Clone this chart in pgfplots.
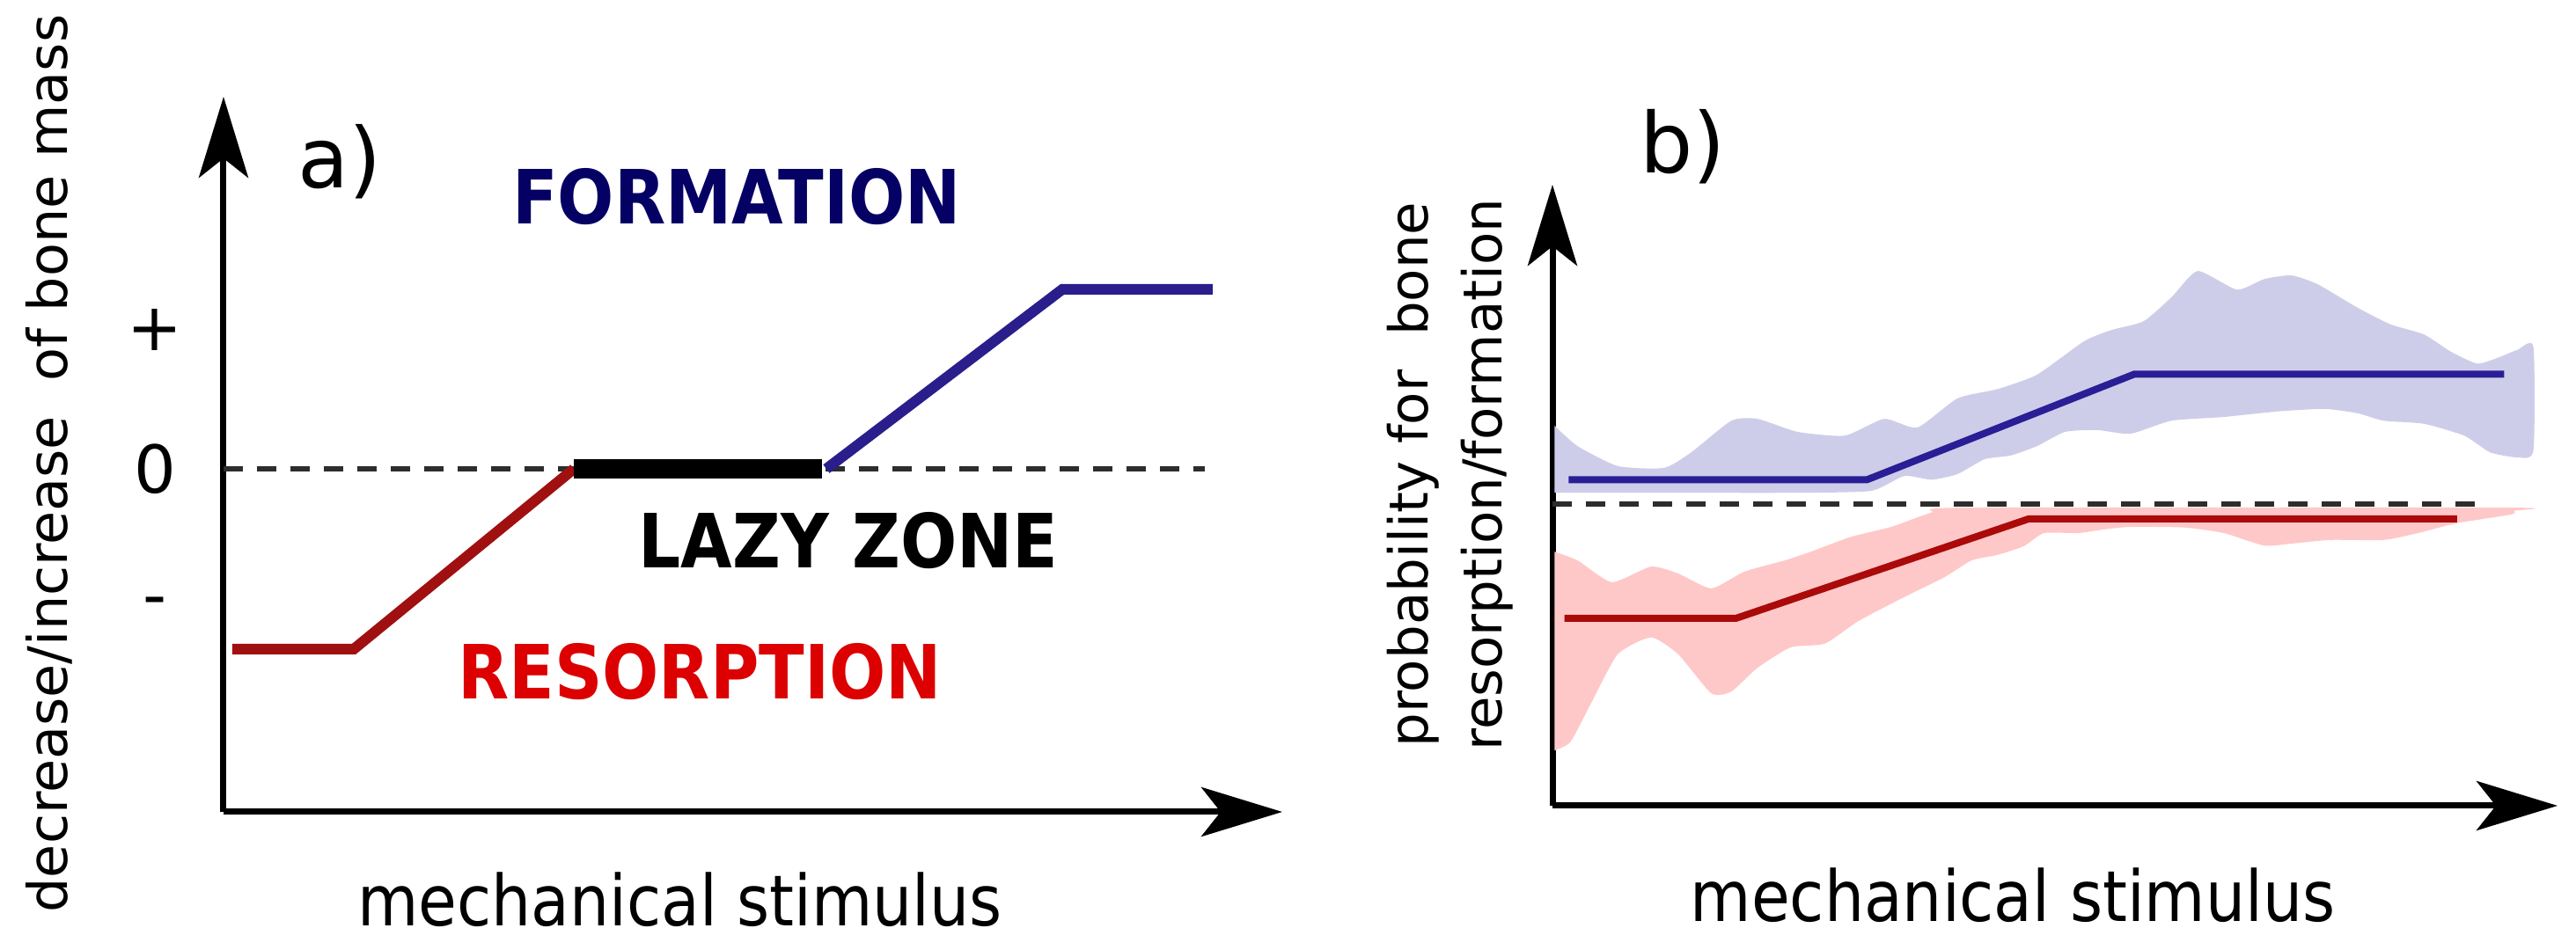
\documentclass[border=0pt]{standalone}
\usepackage{pgfplots}
\pgfplotsset{compat=1.18}
\usetikzlibrary{arrows.meta}
\usepackage{fontspec}
\setmainfont{DejaVu Sans}
\newfontfamily\condfont{DejaVu Sans}[FakeStretch=0.89]

\definecolor{navytxt}{RGB}{5,0,100}
\definecolor{redtxt}{RGB}{220,0,0}
\definecolor{lred}{RGB}{160,16,16}
\definecolor{lblue}{RGB}{42,30,140}
\definecolor{bred}{RGB}{170,10,10}
\definecolor{bblue}{RGB}{42,30,150}
\definecolor{bandblue}{RGB}{206,205,233}
\definecolor{bandred}{RGB}{255,200,200}
\definecolor{dashc}{RGB}{45,45,45}

\pgfplotsset{
  sketch/.style={
    scale only axis, axis lines=left, enlargelimits=false, clip=false,
    axis line style={line width=1.75pt, -{Stealth[length=23pt,width=14pt,inset=5.5pt]}},
    xtick=\empty, major tick length=0pt,
  }
}

\begin{document}
\begin{tikzpicture}
\path[use as bounding box] (0,0) rectangle (731.75pt,270pt);

% ---------------- panel a ----------------
\begin{axis}[sketch,
  at={(63.5pt,39.25pt)}, anchor=south west,
  width=300.75pt, height=203.25pt,
  xmin=0, xmax=10, ymin=-2.468, ymax=2.677,
  ytick={-1,0,1}, yticklabels={-,0,+},
  yticklabel style={anchor=center, xshift=-19.5pt, font=\fontsize{18.75pt}{20pt}\selectfont},
  xlabel={mechanical stimulus},
  xlabel style={at={(axis description cs:0.431,-0.123)}, anchor=center,
    font=\condfont\fontsize{20pt}{24pt}\selectfont},
  ylabel={decrease/increase\ \ of bone mass},
  ylabel style={at={(axis description cs:-0.165,0.487)}, anchor=center,
    font=\fontsize{15.5pt}{18pt}\selectfont},
]
\addplot[dashc, line width=1.5pt, dash pattern=on 5.5pt off 4pt] coordinates {(0,0) (9.27,0)};
\addplot[lred, line width=3pt] coordinates {(0.083,-1.297) (1.230,-1.297) (3.309,0)};
\addplot[black, line width=5.5pt] coordinates {(3.309,0) (5.653,0)};
\addplot[lblue, line width=3pt] coordinates {(5.694,0) (7.922,1.291) (9.343,1.291)};
\node[font=\fontsize{23.75pt}{26pt}\selectfont] at (axis cs:1.097,2.209) {a)};
\node[font=\condfont\bfseries\fontsize{21.25pt}{24pt}\selectfont, text=navytxt] at (axis cs:4.846,1.956) {FORMATION};
\node[font=\condfont\bfseries\fontsize{21.25pt}{24pt}\selectfont, text=black] at (axis cs:5.902,-0.519) {LAZY ZONE};
\node[font=\condfont\bfseries\fontsize{21.25pt}{24pt}\selectfont, text=redtxt] at (axis cs:4.497,-1.456) {RESORPTION};
\end{axis}

% ---------------- panel b ----------------
\begin{axis}[sketch,
  at={(441pt,41pt)}, anchor=south west,
  width=285.5pt, height=176.5pt,
  xmin=0, xmax=10, ymin=0, ymax=10,
  ytick=\empty,
  xlabel={mechanical stimulus},
  xlabel style={at={(axis description cs:0.458,-0.144)}, anchor=center,
    font=\condfont\fontsize{20pt}{24pt}\selectfont},
  ylabel={probability for\ \ bone\\resorption/formation},
  ylabel style={at={(axis description cs:-0.102,0.533)}, anchor=center, align=center,
    font=\fontsize{15.25pt}{21pt}\selectfont},
]
% formation band
\addplot[fill=bandblue, draw=none, smooth, tension=0.35] coordinates {
 (0.02,6.12) (0.25,5.79) (0.65,5.47) (1.11,5.44) (1.38,5.69) (1.78,6.20) (2.04,6.23)
 (2.44,6.02) (2.91,5.96) (3.30,6.23) (3.63,6.09) (4.03,6.56) (4.43,6.71) (4.82,6.94)
 (5.29,7.48) (5.56,7.66) (5.88,7.80) (6.16,8.19) (6.42,8.61) (6.81,8.31) (7.08,8.48)
 (7.35,8.54) (7.61,8.40) (8.01,8.02) (8.34,7.75) (8.67,7.59) (8.94,7.31) (9.20,7.12)
 (9.40,7.21) (9.60,7.34) (9.76,7.39)
 (9.76,5.72) (9.60,5.61) (9.33,5.69) (9.07,5.96) (8.67,6.15) (8.27,6.20) (8.01,6.32)
 (7.68,6.39) (7.22,6.35) (6.68,6.26) (6.16,6.20) (5.75,5.99) (5.42,6.05) (5.10,6.02)
 (4.82,5.79) (4.56,5.64) (4.30,5.58) (4.03,5.34) (3.77,5.25) (3.50,5.31) (3.17,5.07)
 (2.44,5.04) (1.11,5.04) (0.02,5.04)
} -- cycle;
% resorption band
\addplot[fill=bandred, draw=none, smooth, tension=0.35] coordinates {
 (0.02,4.09) (0.25,3.95) (0.59,3.60) (0.98,3.85) (1.25,3.74) (1.58,3.50) (1.91,3.77)
 (2.31,3.95) (2.57,4.09) (2.97,4.33) (3.37,4.49) (3.77,4.72) (4.10,4.80) (9.54,4.80)
 (9.57,4.75)
 (9.54,4.69) (9.00,4.55) (8.61,4.39) (8.27,4.28) (7.74,4.28) (7.35,4.22) (7.08,4.19)
 (6.68,4.39) (6.29,4.48) (5.75,4.49) (5.49,4.45) (5.23,4.39) (4.89,4.39) (4.69,4.18)
 (4.43,4.04) (4.17,3.95) (3.90,3.68) (3.50,3.36) (3.04,2.97) (2.71,2.61) (2.37,2.55)
 (2.04,2.22) (1.78,1.84) (1.58,1.81) (1.25,2.44) (0.98,2.71) (0.65,2.44) (0.39,1.67)
 (0.18,1.03) (0.02,0.89)
} -- cycle;
\addplot[dashc, line width=1.5pt, dash pattern=on 5.5pt off 4pt] coordinates {(0,4.86) (9.28,4.86)};
\addplot[bblue, line width=2pt] coordinates {(0.16,5.25) (3.13,5.25) (5.79,6.95) (9.47,6.95)};
\addplot[bred, line width=2pt] coordinates {(0.12,3.02) (1.83,3.02) (4.74,4.62) (9.00,4.62)};
\node[font=\fontsize{23.75pt}{26pt}\selectfont] at (axis cs:1.296,10.62) {b)};
\end{axis}
\end{tikzpicture}
\end{document}
